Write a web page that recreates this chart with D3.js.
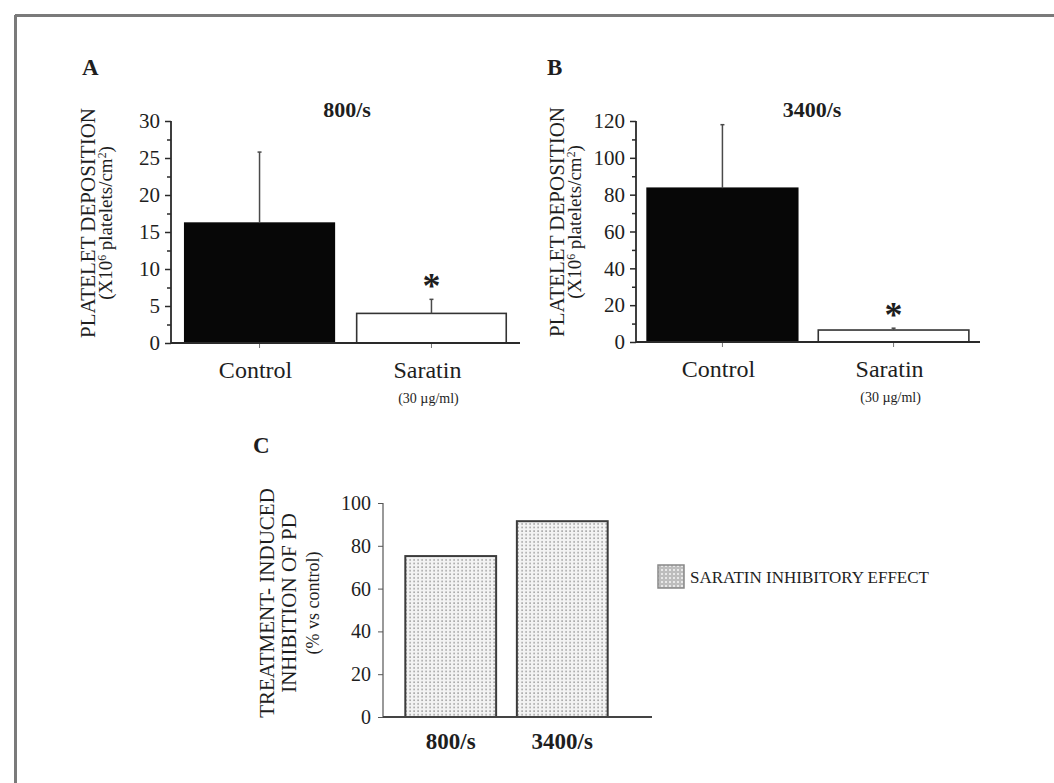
<!DOCTYPE html>
<html>
<head>
<meta charset="utf-8">
<script src="https://cdn.jsdelivr.net/npm/d3@7"></script>
<style>
  html, body { margin: 0; padding: 0; background: #fff; }
  svg { display: block; }
  text { font-family: "Liberation Serif", "Times New Roman", serif; fill: #1e1e1e; }
</style>
</head>
<body>
<script>
// Platelet deposition (x10^6 platelets/cm^2), mean and SD, at 800/s
const panelACategories = ["Control", "Saratin"];
const panelAMeans = [16.2, 4.0];
const panelASD = [9.6, 1.9];
const panelATicks = [0, 5, 10, 15, 20, 25, 30];
const panelAMinorTicks = [2.5, 7.5, 12.5, 17.5, 22.5, 27.5];

// Platelet deposition at 3400/s
const panelBCategories = ["Control", "Saratin"];
const panelBMeans = [83.5, 6.5];
const panelBSD = [34.5, 1.0];
const panelBTicks = [0, 20, 40, 60, 80, 100, 120];
const panelBMinorTicks = [10, 30, 50, 70, 90, 110];

// Treatment-induced inhibition of platelet deposition (% vs control)
const panelCCategories = ["800/s", "3400/s"];
const panelCValues = [75.2, 91.5];
const panelCTicks = [0, 20, 40, 60, 80, 100];

const W = 1054, H = 783;
const svg = d3.select("body").append("svg").attr("width", W).attr("height", H);

// stipple fill for the inhibition bars
const defs = svg.append("defs");
const stip = defs.append("pattern").attr("id", "stipple")
  .attr("patternUnits", "userSpaceOnUse").attr("width", 4).attr("height", 3.6);
stip.append("rect").attr("width", 4).attr("height", 3.6).attr("fill", "#f3f3f3");
stip.append("rect").attr("x", 1.4).attr("y", 1.2).attr("width", 1.4).attr("height", 1.4).attr("fill", "#8c8c8c");
const stipDark = defs.append("pattern").attr("id", "stippleDark")
  .attr("patternUnits", "userSpaceOnUse").attr("width", 4).attr("height", 4);
stipDark.append("rect").attr("width", 4).attr("height", 4).attr("fill", "#bdbdbd");
stipDark.append("rect").attr("x", 1).attr("y", 1).attr("width", 2).attr("height", 2).attr("fill", "#e8e8e8");

// figure frame (top and left rules)
svg.append("line").attr("x1", 15).attr("x2", W).attr("y1", 15.5).attr("y2", 15.5)
  .attr("stroke", "#7a7a7a").attr("stroke-width", 3);
svg.append("line").attr("x1", 15.5).attr("x2", 15.5).attr("y1", 15).attr("y2", H)
  .attr("stroke", "#7a7a7a").attr("stroke-width", 3);

const axisColor = "#2a2a2a";

function styleAxis(g) {
  g.selectAll("path.domain").remove();
  g.selectAll("line").attr("stroke", axisColor).attr("stroke-width", 1.5);
}

function yTitle(x, y, lines) {
  lines.forEach(l => {
    const t = svg.append("text")
      .attr("transform", `translate(${l.dx + x},${y}) rotate(-90)`)
      .attr("text-anchor", "middle")
      .style("font-size", l.size + "px");
    l.parts.forEach(p => {
      const ts = t.append("tspan").text(p.t);
      if (p.sup) ts.attr("baseline-shift", "super").style("font-size", (l.size * 0.62) + "px");
    });
  });
}

function depositionPanel(opt) {
  const y = d3.scaleLinear().domain(opt.domain).range([opt.y0, opt.yTop]);
  const x = d3.scaleBand().domain(opt.categories).range([opt.x0, opt.xBandEnd])
    .paddingInner(opt.padInner).paddingOuter(opt.padOuter);

  // bars
  svg.append("g").selectAll("rect").data(opt.categories).join("rect")
    .attr("x", d => x(d))
    .attr("y", (d, i) => y(opt.means[i]))
    .attr("width", x.bandwidth())
    .attr("height", (d, i) => y(0) - y(opt.means[i]))
    .attr("fill", (d, i) => i === 0 ? "#070707" : "#ffffff")
    .attr("stroke", (d, i) => i === 0 ? "#070707" : "#333")
    .attr("stroke-width", 1.6);

  // upward SD whiskers
  svg.append("g").selectAll("line").data(opt.categories).join("line")
    .attr("x1", d => x(d) + x.bandwidth() / 2)
    .attr("x2", d => x(d) + x.bandwidth() / 2)
    .attr("y1", (d, i) => y(opt.means[i]))
    .attr("y2", (d, i) => y(opt.means[i] + opt.sd[i]))
    .attr("stroke", "#4a4a4a").attr("stroke-width", 1.5);
  svg.append("g").selectAll("line").data(opt.categories).join("line")
    .attr("x1", d => x(d) + x.bandwidth() / 2 - 2)
    .attr("x2", d => x(d) + x.bandwidth() / 2 + 2)
    .attr("y1", (d, i) => y(opt.means[i] + opt.sd[i]))
    .attr("y2", (d, i) => y(opt.means[i] + opt.sd[i]))
    .attr("stroke", "#4a4a4a").attr("stroke-width", 1.5);

  // significance marker on the treated group
  const k = 1;
  svg.append("text")
    .attr("x", x(opt.categories[k]) + x.bandwidth() / 2)
    .attr("y", y(opt.means[k] + opt.sd[k]) - 1)
    .attr("text-anchor", "middle")
    .style("font-size", "36px").style("font-weight", "bold")
    .text("*");

  // y axis
  const ya = svg.append("g").attr("transform", `translate(${opt.x0},0)`)
    .call(d3.axisLeft(y).tickValues(opt.ticks).tickSize(6).tickPadding(5).tickSizeOuter(0));
  styleAxis(ya);
  ya.selectAll("text").style("font-size", "21px").attr("fill", "#1e1e1e");
  const ym = svg.append("g").attr("transform", `translate(${opt.x0},0)`)
    .call(d3.axisLeft(y).tickValues(opt.minor).tickSize(4).tickFormat(""));
  styleAxis(ym);
  svg.append("line").attr("x1", opt.x0).attr("x2", opt.x0)
    .attr("y1", y(opt.domain[0])).attr("y2", y(opt.domain[1]))
    .attr("stroke", axisColor).attr("stroke-width", 1.8);

  // x axis
  const xa = svg.append("g").attr("transform", `translate(0,${opt.y0})`)
    .call(d3.axisBottom(x).tickSize(5).tickPadding(13).tickSizeOuter(0));
  styleAxis(xa);
  xa.selectAll("line").attr("stroke-width", 1).attr("stroke", "#777");
  xa.selectAll("text").style("font-size", "24px").attr("fill", "#1e1e1e").attr("dx", "-4");
  svg.append("line").attr("x1", opt.x0).attr("x2", opt.xAxisEnd)
    .attr("y1", opt.y0).attr("y2", opt.y0)
    .attr("stroke", axisColor).attr("stroke-width", 1.8);

  // dose under the treated group
  svg.append("text")
    .attr("x", x(opt.categories[1]) + x.bandwidth() / 2 - 3)
    .attr("y", opt.y0 + 60)
    .attr("text-anchor", "middle")
    .style("font-size", "14px")
    .text("(30 µg/ml)");

  // shear rate title
  svg.append("text").attr("x", opt.titleX).attr("y", 117)
    .attr("text-anchor", "middle")
    .style("font-size", "22px").style("font-weight", "bold")
    .text(opt.title);

  // panel letter
  svg.append("text").attr("x", opt.letterX).attr("y", 75)
    .style("font-size", "23px").style("font-weight", "bold")
    .text(opt.letter);

  yTitle(opt.yTitleX, opt.yTitleY, [
    { dx: 0, size: 21, parts: [{ t: "PLATELET DEPOSITION" }] },
    { dx: 17, size: 19, parts: [{ t: "(X10" }, { t: "6", sup: true }, { t: " platelets/cm" }, { t: "2", sup: true }, { t: ")" }] }
  ]);
}

depositionPanel({
  categories: panelACategories, means: panelAMeans, sd: panelASD,
  domain: [0, 30], ticks: panelATicks, minor: panelAMinorTicks,
  x0: 171, xBandEnd: 520, xAxisEnd: 520, y0: 343, yTop: 121,
  padInner: 0.13, padOuter: 0.08,
  title: "800/s", titleX: 347, letter: "A", letterX: 82,
  yTitleX: 95, yTitleY: 223
});

depositionPanel({
  categories: panelBCategories, means: panelBMeans, sd: panelBSD,
  domain: [0, 120], ticks: panelBTicks, minor: panelBMinorTicks,
  x0: 636, xBandEnd: 980, xAxisEnd: 980, y0: 342, yTop: 121,
  padInner: 0.12, padOuter: 0.065,
  title: "3400/s", titleX: 812, letter: "B", letterX: 547,
  yTitleX: 564, yTitleY: 222
});

// Panel C: inhibition relative to control
(function () {
  const x0 = 383, y0 = 717;
  const y = d3.scaleLinear().domain([0, 100]).range([y0, 503]);
  const x = d3.scaleBand().domain(panelCCategories).range([x0, 630])
    .paddingInner(0.186).paddingOuter(0.2);

  svg.append("g").selectAll("rect").data(panelCCategories).join("rect")
    .attr("x", d => x(d))
    .attr("y", (d, i) => y(panelCValues[i]))
    .attr("width", x.bandwidth())
    .attr("height", (d, i) => y(0) - y(panelCValues[i]))
    .attr("fill", "url(#stipple)")
    .attr("stroke", "#3c3c3c").attr("stroke-width", 2);

  const ya = svg.append("g").attr("transform", `translate(${x0},0)`)
    .call(d3.axisLeft(y).tickValues(panelCTicks).tickSize(5).tickPadding(7).tickSizeOuter(0));
  styleAxis(ya);
  ya.selectAll("line").attr("stroke", "#555").attr("stroke-width", 1);
  ya.selectAll("text").style("font-size", "20px").attr("fill", "#2a2a2a");
  svg.append("line").attr("x1", x0).attr("x2", x0).attr("y1", y(0)).attr("y2", y(100))
    .attr("stroke", "#555").attr("stroke-width", 1.2);

  const xa = svg.append("g").attr("transform", `translate(0,${y0})`)
    .call(d3.axisBottom(x).tickSize(0).tickPadding(16));
  styleAxis(xa);
  xa.selectAll("text").style("font-size", "23px").style("font-weight", "bold")
    .attr("fill", "#1e1e1e");
  svg.append("line").attr("x1", x0).attr("x2", 652).attr("y1", y0).attr("y2", y0)
    .attr("stroke", "#444").attr("stroke-width", 2);

  svg.append("text").attr("x", 253).attr("y", 453)
    .style("font-size", "23px").style("font-weight", "bold").text("C");

  yTitle(274, 603, [
    { dx: 0, size: 21, parts: [{ t: "TREATMENT- INDUCED" }] },
    { dx: 22, size: 21, parts: [{ t: "INHIBITION OF PD" }] },
    { dx: 45, size: 18, parts: [{ t: "(% vs control)" }] }
  ]);

  // legend
  svg.append("rect").attr("x", 658).attr("y", 565).attr("width", 26).attr("height", 23)
    .attr("fill", "url(#stippleDark)").attr("stroke", "#888").attr("stroke-width", 1.5);
  svg.append("text").attr("x", 690).attr("y", 583)
    .style("font-size", "17px").attr("fill", "#333")
    .text("SARATIN INHIBITORY EFFECT");
})();
</script>
</body>
</html>
